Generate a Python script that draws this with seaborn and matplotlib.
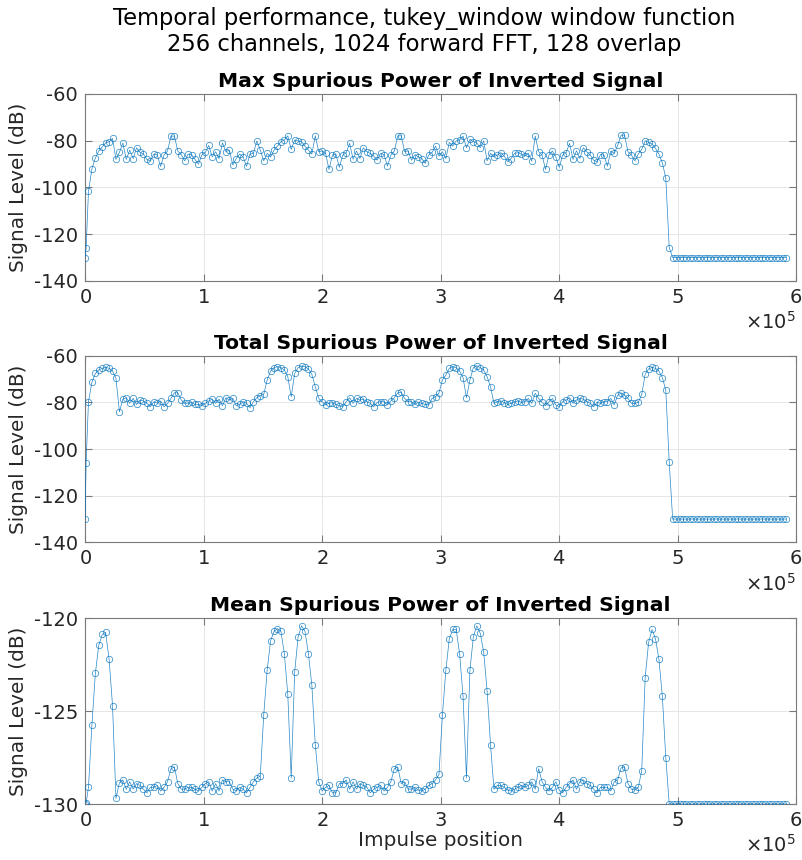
import numpy as np
import pandas as pd
import matplotlib
matplotlib.use("Agg")
import matplotlib.pyplot as plt
import seaborn as sns

# ---------------- data ----------------
suptitle_lines = ["Temporal performance, tukey_window window function",
                  "256 channels, 1024 forward FFT, 128 overlap"]
panel_titles = ["Max Spurious Power of Inverted Signal",
                "Total Spurious Power of Inverted Signal",
                "Mean Spurious Power of Inverted Signal"]
x_ticks = [0, 1, 2, 3, 4, 5, 6]          # in units of 1e5
y_ticks_12 = [-140, -120, -100, -80, -60]
y_ticks_3 = [-130, -125, -120]

# sampling grid of impulse positions (first extra sample near 0)
step = 2900
impulse_pos = np.concatenate(([0, 900], np.arange(1, 205) * step))

max_power = [
    -130, -126,
    -101.7, -92, -87.4, -84.4, -82.6, -80.9, -80.4, -79, -88, -85,
    -81, -88, -84, -87.6, -83, -85, -85.7, -88, -88.7, -85.7,
    -86, -91, -86, -84.4, -78, -78, -84.4, -86, -88.6, -85.7,
    -86, -88, -90, -86, -85, -82, -86.9, -84.7, -87.6, -80.9,
    -84.7, -84, -90.4, -87.6, -85.7, -86.9, -91, -85.7, -85.4, -80.1,
    -84, -88.6,
    -85.4, -86.9, -84, -82.3, -80.4, -79.7, -77.9, -83.7, -79.7, -80.1,
    -80.4, -82.3, -84, -85.7, -77.9, -84.7, -84.4, -85.4, -92.3, -86.1,
    -85.7, -91.4, -86.1, -85.1, -81.1, -87.9, -84.4, -87.6, -83, -84.7,
    -85.4, -86.6, -88.3, -85.4, -85.9, -90.9, -86.1, -84.4, -77.9, -77.9,
    -84.7, -84.3, -88.3, -85.9, -86.9, -87.6, -89.7, -86.1, -85, -82.3,
    -86.6, -84.7,
    -87.6, -80.7, -82.3, -80.1, -79.7, -78, -83, -79.4, -80.4, -80.9,
    -83, -80.1, -88.6, -85.4, -86.9, -86.1, -85.1, -86.6, -89, -87.6,
    -85.4, -85.1, -85.7, -86.6, -85.4, -88.7, -78, -84.7, -86.1, -92.3,
    -86.1, -84.4, -86.9, -91.4, -86.1, -85.1, -81.1, -88, -84.3, -87.6,
    -83, -84.7, -86.1, -88.3, -89, -85.9, -86.1, -90.9, -84.4, -85.4,
    -82, -77.6, -77.6,
    -84.7, -86.1, -88.6, -85.7, -83.7, -80, -80.7, -81.4, -83.3, -85.7,
    -89.4, -96, -125.7,
    -130, -130, -130, -130, -130, -130, -130, -130, -130, -130,
    -130, -130, -130, -130, -130, -130, -130, -130, -130, -130,
    -130, -130, -130, -130, -130, -130, -130, -130, -130, -130,
    -130, -130, -130, -130,
]

total_power = [
    -130, -106,
    -79.7, -71.4, -67.6, -66.1, -65.4, -65, -65.4, -66.6, -69.7, -84,
    -78.7, -78, -80.4, -78.3, -80.9, -79, -79.4, -80.4, -81.9, -79.7,
    -80.4, -79.4, -81.9, -80.4, -78.3, -75.9, -75.9, -79, -80.4, -80.4,
    -80, -80.9, -80.9, -81.4, -80.4, -79.4, -78.6, -80.4, -78.6, -81.4,
    -78, -79, -78.3, -81.4, -80.9, -79.7, -80.4, -82.3, -79.7, -78,
    -77.1, -76.6, -70.4,
    -66.6, -65.1, -64.7, -65.1, -66.1, -69, -77.6, -67.6, -65.1, -64.4,
    -64.7, -65.7, -68, -73.3, -78.3, -79.7, -81.1, -80.4, -80.1, -80.9,
    -81.4, -81.9, -79.7, -78, -80.4, -78.3, -79, -78.7,
    -79.7, -80.4, -81.9, -80, -79.7, -79.7, -81.1, -79.4, -78, -75.9,
    -75.7,
    -78.3, -79.7, -79.7, -80.9, -80, -80.4, -80.9, -81.1,
    -78.3, -77.6, -75.9, -70.4, -68.3,
    -65.4, -64.7, -65.1, -66.6, -69.4, -78, -70.4, -65.1, -64.3, -65.1,
    -66.1, -69, -73.3,
    -80.4, -79.7, -79.4, -80.1, -80.9, -80.4, -79.7, -79.4, -80, -79.7,
    -78.3, -80.4, -76.1, -78.3, -80, -81.4, -79.7, -78.3, -81.1, -81.9,
    -79.7, -79, -78, -80.4, -79, -78.3, -78.6, -79.7, -80.4, -81.9,
    -80, -80.4, -79.7, -79.7, -78.3, -81.1, -76.9, -75.9, -76.9,
    -78.3, -80.4, -80.4, -80, -76.6, -67.9, -65.7, -65, -65.4, -66.6,
    -69.4, -74.7, -105.7,
    -130, -130, -130, -130, -130, -130, -130, -130, -130, -130,
    -130, -130, -130, -130, -130, -130, -130, -130, -130, -130,
    -130, -130, -130, -130, -130, -130, -130, -130, -130, -130,
    -130, -130, -130, -130,
]

mean_power = [
    -130, -129.95,
    -129.1, -125.75, -122.97, -121.45, -120.87, -120.76, -122.2, -124.7, -129.7, -128.86,
    -128.7, -129.2, -128.8, -129.2, -128.9, -129.0, -129.2, -129.4, -129.1, -129.1,
    -129.0, -129.3, -129.1, -128.8, -128.1, -128.0, -128.9, -129.2, -129.2, -129.1,
    -129.1, -129.2, -129.3, -129.1, -128.9, -128.8, -129.3, -128.9, -129.3, -128.7,
    -128.8, -128.8, -129.2, -129.3, -129.1, -129.2, -129.4, -129.1, -128.8, -128.6,
    -128.5, -125.2,
    -122.8, -121.2, -120.7, -120.55, -120.7, -121.9, -124.1, -128.6, -122.9, -121.0,
    -120.4, -120.7, -121.9, -123.6, -126.8, -128.8,
    -129.3, -129.1, -129.0, -129.4, -129.4, -128.9, -128.9, -128.7, -129.2, -128.8,
    -129.2, -128.9, -129.0, -129.1, -129.4, -129.2, -129.1, -129.0, -129.3, -129.1,
    -128.8, -128.1, -128.0, -128.9, -128.8, -129.2, -129.2, -129.1, -129.25, -129.3,
    -129.2, -129.0, -128.9, -128.7, -128.4, -125.2, -122.8,
    -121.1, -120.6, -120.6, -121.9, -124.2, -128.6, -122.8, -121.0, -120.4, -120.8,
    -121.8, -123.9, -126.8, -129.2, -129.0, -129.0, -129.1, -129.25, -129.3, -129.2,
    -129.1, -129.0, -129.1, -129.0, -128.8, -129.2, -128.1, -128.8, -129.1, -129.3,
    -129.1, -128.8, -129.25, -129.4, -129.1, -128.9, -128.7, -129.2, -128.8, -128.7,
    -128.9, -129.0, -129.2, -129.4, -129.1, -129.1, -129.1, -129.3, -128.8, -128.7,
    -128.05, -128.0,
    -128.9, -129.2, -129.25, -129.1, -128.2, -123.2, -121.3, -120.6, -121.1, -122.2,
    -124.2, -127.5, -130,
    -130, -130, -130, -130, -130, -130, -130, -130, -130, -130,
    -130, -130, -130, -130, -130, -130, -130, -130, -130, -130,
    -130, -130, -130, -130, -130, -130, -130, -130, -130, -130,
    -130, -130, -130, -130,
]

# ---------------- style ----------------
sns.set_theme(style="ticks")
plt.rcParams.update({
    "font.family": ["DejaVu Sans"],
    "axes.unicode_minus": False,
    "axes.edgecolor": "#7a7a7a",
    "axes.linewidth": 0.8,
    "xtick.color": "#7a7a7a",
    "ytick.color": "#7a7a7a",
    "xtick.labelcolor": "#262626",
    "ytick.labelcolor": "#262626",
    "xtick.labelsize": 14,
    "ytick.labelsize": 14,
    "text.color": "#000000",
})

line_color = "#0072BD"

fig = plt.figure(figsize=(8.03, 8.6), dpi=100)
left, width = 0.1059, 0.8854
rects = [
    [left, 0.6733, width, 0.2174],
    [left, 0.3693, width, 0.2171],
    [left, 0.0651, width, 0.2159],
]

series = [max_power, total_power, mean_power]

for i, (rect, vals, title) in enumerate(zip(rects, series, panel_titles)):
    ax = fig.add_axes(rect)
    df = pd.DataFrame({"pos": impulse_pos, "level": vals})
    sns.lineplot(data=df, x="pos", y="level", ax=ax, estimator=None, sort=False,
                 color=line_color, linewidth=0.5, marker="o", markersize=4.6,
                 markerfacecolor="none", markeredgecolor=line_color,
                 markeredgewidth=0.5, alpha=0.85, zorder=3)
    ax.set_xlim(0, 6e5)
    ax.set_xticks(np.array(x_ticks) * 1e5)
    if i < 2:
        ax.set_ylim(-140, -60)
        ax.set_yticks(y_ticks_12)
    else:
        ax.set_ylim(-130, -120)
        ax.set_yticks(y_ticks_3)
    ax.ticklabel_format(axis="x", style="sci", scilimits=(5, 5), useMathText=True)
    ax.xaxis.get_offset_text().set_fontsize(14)
    ax.xaxis.get_offset_text().set_color("#262626")
    ax.grid(True, color="#e6e6e6", linewidth=0.7, zorder=0)
    ax.set_axisbelow(True)
    ax.tick_params(direction="in", length=5, width=0.8, top=True, right=True,
                   pad=5)
    for s in ax.spines.values():
        s.set_visible(True)
    ax.set_title(title, fontsize=14.6, fontweight="bold", pad=5)
    ax.set_ylabel("Signal Level (dB)", fontsize=14.4, color="#262626", labelpad=4)
    if i == 2:
        ax.set_xlabel("Impulse position", fontsize=14.4, color="#262626", labelpad=1)
    else:
        ax.set_xlabel("")

fig.suptitle("\n".join(suptitle_lines), fontsize=16.3, x=424 / 803,
             y=1 - 7 / 860, va="top", linespacing=1.15)

fig.savefig("out.png", dpi=100)
